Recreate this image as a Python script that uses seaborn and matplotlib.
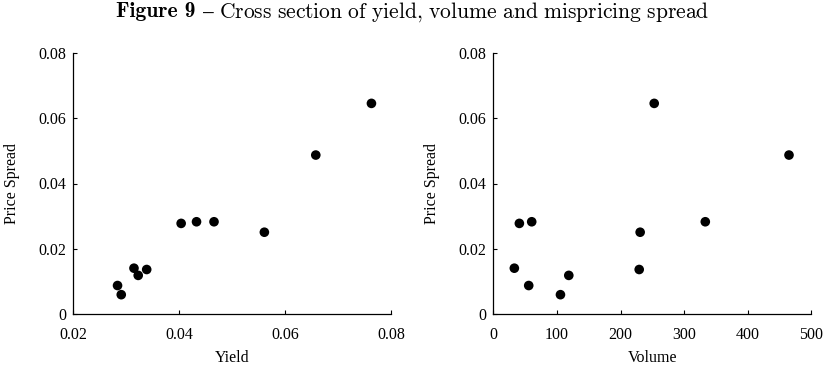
import matplotlib
matplotlib.use("Agg")
import matplotlib.pyplot as plt
import seaborn as sns
import pandas as pd

# Data
yield_vals = [0.0284, 0.0291, 0.0315, 0.0323, 0.0339, 0.0404, 0.0433, 0.0466, 0.0561, 0.0658, 0.0763]
spread_vals = [0.0088, 0.0060, 0.0141, 0.0119, 0.0137, 0.0278, 0.0283, 0.0283, 0.0251, 0.0487, 0.0645]
volume_vals = [55.6, 105.5, 33.0, 118.6, 229.3, 40.9, 60.3, 333.2, 230.8, 464.8, 252.9]

yield_ticks = [0.02, 0.04, 0.06, 0.08]
yield_ticklabels = ["0.02", "0.04", "0.06", "0.08"]
volume_ticks = [0, 100, 200, 300, 400, 500]
volume_ticklabels = ["0", "100", "200", "300", "400", "500"]
spread_ticks = [0, 0.02, 0.04, 0.06, 0.08]
spread_ticklabels = ["0", "0.02", "0.04", "0.06", "0.08"]

title_bold = "Figure 9"
title_rest = r"$\mathrm{–\ Cross\ section\ of\ yield{,}\ volume\ and\ mispricing\ spread}$"

df = pd.DataFrame({"Yield": yield_vals, "Volume": volume_vals, "Price Spread": spread_vals})

sns.set_theme(style="ticks")
plt.rcParams["font.family"] = ["Liberation Serif", "DejaVu Serif"]
plt.rcParams["mathtext.fontset"] = "cm"
plt.rcParams["text.color"] = "black"
plt.rcParams["axes.labelcolor"] = "black"

fig = plt.figure(figsize=(8.25, 3.67), dpi=100)
ax1 = fig.add_axes([0.0885, 0.1436, 0.3855, 0.7128])
ax2 = fig.add_axes([0.598, 0.1436, 0.3855, 0.7128])

fs = 11.5
for ax, xcol, xt, xtl, xlim in [
    (ax1, "Yield", yield_ticks, yield_ticklabels, (0.02, 0.08)),
    (ax2, "Volume", volume_ticks, volume_ticklabels, (0, 500)),
]:
    sns.scatterplot(data=df, x=xcol, y="Price Spread", ax=ax, color="black",
                    s=48, edgecolor="none", linewidth=0, legend=False)
    ax.set_xlim(*xlim)
    ax.set_ylim(0, 0.08)
    ax.set_xticks(xt)
    ax.set_xticklabels(xtl, fontsize=fs)
    ax.set_yticks(spread_ticks)
    ax.set_yticklabels(spread_ticklabels, fontsize=fs)
    ax.tick_params(direction="in", length=3, width=0.8, colors="black")
    ax.tick_params(axis="x", pad=9)
    ax.tick_params(axis="y", pad=5)
    for side in ["top", "right"]:
        ax.spines[side].set_visible(False)
    for side in ["left", "bottom"]:
        ax.spines[side].set_linewidth(0.9)
        ax.spines[side].set_color("black")
    ax.set_xlabel(xcol, fontsize=fs, labelpad=5)
    ax.set_ylabel("Price Spread", fontsize=fs, labelpad=13)
    ax.set_facecolor("white")

# Title: bold part + rest, centred together
tfs = 15.5
ty = 0.968
t1 = fig.text(0, ty, title_bold, ha="left", va="center", fontsize=tfs,
              family="cmb10", color="black")
t2 = fig.text(0, ty, title_rest, ha="left", va="center", fontsize=tfs, color="black")
fig.canvas.draw()
r = fig.canvas.get_renderer()
w1 = t1.get_window_extent(r).width / fig.bbox.width
w2 = t2.get_window_extent(r).width / fig.bbox.width
gap = 0.008
x0 = 0.5 - (w1 + gap + w2) / 2
t1.set_x(x0)
t2.set_x(x0 + w1 + gap)

fig.savefig("out.png", dpi=100, facecolor="white")
